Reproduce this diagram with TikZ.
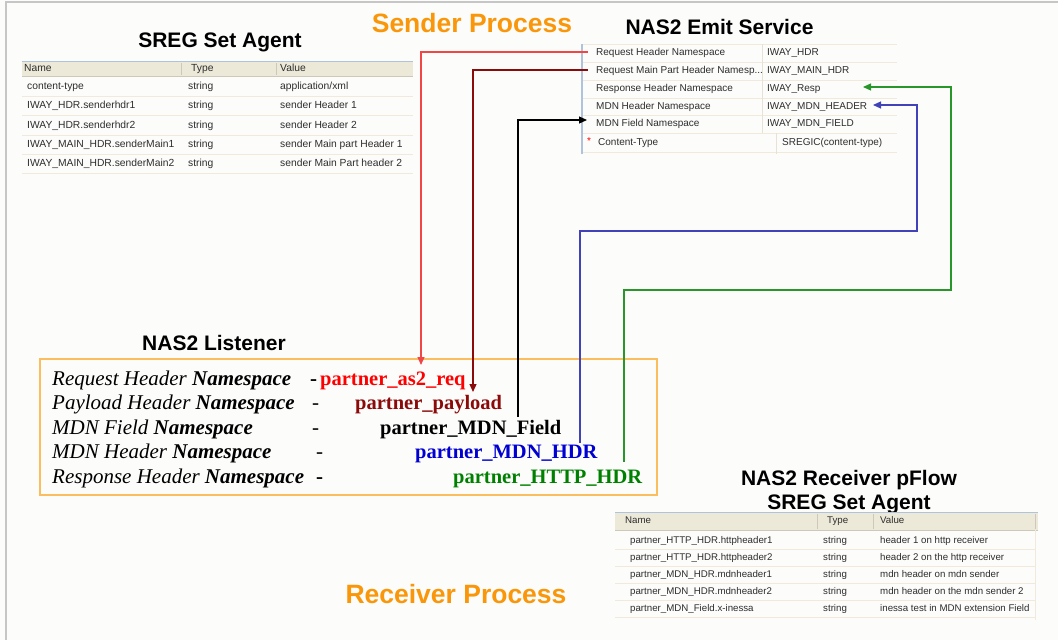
\documentclass[tikz,border=0pt]{standalone}
\usepackage{fontspec}
\setmainfont{Liberation Serif}
\newfontfamily\arialf{Liberation Sans}
\usetikzlibrary{arrows.meta}
\definecolor{bgc}{RGB}{252,253,251}
\definecolor{framec}{RGB}{198,198,198}
\definecolor{orangec}{RGB}{250,150,10}
\definecolor{boxc}{RGB}{250,190,95}
\definecolor{hdrfill}{RGB}{236,233,216}
\definecolor{hdrsep}{RGB}{205,200,185}
\definecolor{rowsep}{RGB}{240,233,220}
\definecolor{colsep}{RGB}{232,226,212}
\definecolor{tabblue}{RGB}{175,195,220}
\definecolor{tabtext}{RGB}{45,45,45}
\definecolor{redl}{RGB}{240,70,70}
\definecolor{redt}{RGB}{255,0,0}
\definecolor{dred}{RGB}{139,10,10}
\definecolor{bluel}{RGB}{65,65,185}
\definecolor{bluet}{RGB}{0,0,210}
\definecolor{greenl}{RGB}{40,150,40}
\definecolor{greent}{RGB}{0,128,0}
\begin{document}
\begin{tikzpicture}[x=1pt,y=-1pt,
  titletxt/.style={font=\arialf\bfseries\fontsize{21pt}{24pt}\selectfont, inner sep=0pt, anchor=base},
  proctxt/.style={font=\arialf\bfseries\fontsize{26.5pt}{30pt}\selectfont, text=orangec, inner sep=0pt, anchor=base},
  tabA/.style={font=\arialf\fontsize{10.3pt}{12pt}\selectfont, text=tabtext, inner sep=0pt, anchor=west, text height=7.5pt, text depth=2.5pt},
  tabB/.style={font=\arialf\fontsize{10pt}{12pt}\selectfont, text=tabtext, inner sep=0pt, anchor=west, text height=7.5pt, text depth=2.5pt},
  tabC/.style={font=\arialf\fontsize{9.7pt}{12pt}\selectfont, text=tabtext, inner sep=0pt, anchor=west, text height=7.5pt, text depth=2.5pt},
  lbl/.style={font=\fontsize{21pt}{24pt}\selectfont\itshape, inner sep=0pt, anchor=base west},
  dashtxt/.style={font=\fontsize{21pt}{24pt}\selectfont, inner sep=0pt, anchor=base west},
  ptxt/.style={font=\fontsize{20.5pt}{24pt}\selectfont\bfseries, inner sep=0pt, anchor=base west},
  conn/.style={line width=1.2pt},
  tip/.style={-{Triangle[length=8pt,width=7pt]}}
]
\fill[bgc] (0,0) rectangle (1058,640);
\useasboundingbox (0,0) rectangle (1058,640);
\draw[framec, line width=1.5pt] (1058,2) -- (6,2) -- (6,640);

% ---------- titles ----------
\node[proctxt] (sendp) at (472,32) {Sender Process};
\node[proctxt] (recvp) at (456,603) {Receiver Process};
\node[titletxt] (t1) at (220,47) {SREG Set Agent};
\node[titletxt] (t2) at (719.5,34.5) {NAS2 Emit Service};
\node[titletxt] (t3) at (214,350) {NAS2 Listener};
\node[titletxt, anchor=center, align=center] (t4) at (849,492) {NAS2 Receiver pFlow\\SREG Set Agent};

% ---------- table 1: SREG Set Agent ----------
\fill[hdrfill] (22,61) rectangle (413,76);
\draw[hdrsep] (22,76) -- (413,76);
\draw[tabblue, line width=1pt] (22,61) -- (413,61);
\draw[hdrsep] (181,63) -- (181,75) (276,63) -- (276,75);
\foreach \yy in {96.6,115.9,135.1,154.4,173.6} \draw[rowsep, line width=1pt] (22,\yy) -- (413,\yy);
\node[tabA] (a-h1) at (24,68.5) {Name};
\node[tabA] (a-h2) at (191,68.5) {Type};
\node[tabA] (a-h3) at (280,68.5) {Value};
\node[tabA] (a-n1) at (27,87) {content-type};
\node[tabA] (a-t1) at (188,87) {string};
\node[tabA] (a-v1) at (280,87) {application/xml};
\node[tabA] (a-n2) at (27,106.25) {IWAY\_HDR.senderhdr1};
\node[tabA] (a-t2) at (188,106.25) {string};
\node[tabA] (a-v2) at (280,106.25) {sender Header 1};
\node[tabA] (a-n3) at (27,125.5) {IWAY\_HDR.senderhdr2};
\node[tabA] (a-t3) at (188,125.5) {string};
\node[tabA] (a-v3) at (280,125.5) {sender Header 2};
\node[tabA] (a-n4) at (27,144.75) {IWAY\_MAIN\_HDR.senderMain1};
\node[tabA] (a-t4) at (188,144.75) {string};
\node[tabA] (a-v4) at (280,144.75) {sender Main part Header 1};
\node[tabA] (a-n5) at (27,164) {IWAY\_MAIN\_HDR.senderMain2};
\node[tabA] (a-t5) at (188,164) {string};
\node[tabA] (a-v5) at (280,164) {sender Main Part header 2};

% ---------- table 2: NAS2 Emit Service ----------
\foreach \yy in {44,62,80,98,115,133,152} \draw[rowsep, line width=1pt] (582,\yy) -- (897,\yy);
\draw[colsep, line width=1pt] (762,44) -- (762,133) (776,133) -- (776,154);
\draw[tabblue, line width=1.5pt] (582,44) -- (582,154);
\node[tabB] (e1) at (596,53) {Request Header Namespace};
\node[tabB] (v1) at (767,53) {IWAY\_HDR};
\node[tabB] (e2) at (596,71) {Request Main Part Header Namesp...};
\node[tabB] (v2) at (767,71) {IWAY\_MAIN\_HDR};
\node[tabB] (e3) at (596,89) {Response Header Namespace};
\node[tabB] (v3) at (767,89) {IWAY\_Resp};
\node[tabB] (e4) at (596,107) {MDN Header Namespace};
\node[tabB] (v4) at (767,107) {IWAY\_MDN\_HEADER};
\node[tabB] (e5) at (596,124) {MDN Field Namespace};
\node[tabB] (v5) at (767,124) {IWAY\_MDN\_FIELD};
\node[font=\arialf\fontsize{10pt}{12pt}\selectfont, text=red, inner sep=0pt] (star) at (589,141.5) {*};
\node[tabB] (e6) at (598,143) {Content-Type};
\node[tabB] (v6) at (782,143) {SREGIC(content-type)};

% ---------- NAS2 Listener box ----------
\draw[boxc, line width=1.3pt] (40,359) rectangle (657,495);
\node[lbl] (l1) at (52,385) {Request Header \textbf{Namespace}};
\node[lbl] (l2) at (52,409.5) {Payload Header \textbf{Namespace}};
\node[lbl] (l3) at (52,434) {MDN Field \textbf{Namespace}};
\node[lbl] (l4) at (52,458.5) {MDN Header \textbf{Namespace}};
\node[lbl] (l5) at (52,483) {Response Header \textbf{Namespace}};
\node[dashtxt] (d1) at (310,385) {\textbf{-}};
\node[dashtxt] (d2) at (312,409.5) {-};
\node[dashtxt] (d3) at (312,434) {-};
\node[dashtxt] (d4) at (316,458.5) {-};
\node[dashtxt] (d5) at (316,483) {\textbf{-}};
\node[ptxt, text=redt] (p1) at (320,385) {partner\_as2\_req};
\node[ptxt, text=dred] (p2) at (355,409.5) {partner\_payload};
\node[ptxt, text=black] (p3) at (380,434) {partner\_MDN\_Field};
\node[ptxt, text=bluet] (p4) at (415,458.5) {partner\_MDN\_HDR};
\node[ptxt, text=greent] (p5) at (453,483) {partner\_HTTP\_HDR};

% ---------- table 3: NAS2 Receiver pFlow SREG Set Agent ----------
\fill[hdrfill] (615,512) rectangle (1038,530);
\draw[hdrsep] (615,530) -- (1038,530);
\draw[tabblue, line width=1pt] (615,512) -- (1038,512);
\draw[hdrsep] (817,514) -- (817,529) (873,514) -- (873,529) (1035,514) -- (1035,529);
\foreach \yy in {549.5,566.5,583,600,617} \draw[rowsep, line width=1pt] (615,\yy) -- (1035,\yy);
\draw[rowsep, line width=1pt] (1035,530) -- (1035,620);
\node[tabC] (c-h1) at (625,521) {Name};
\node[tabC] (c-h2) at (827,521) {Type};
\node[tabC] (c-h3) at (880,521) {Value};
\node[tabC] (c-n1) at (630,541) {partner\_HTTP\_HDR.httpheader1};
\node[tabC] (c-t1) at (823,541) {string};
\node[tabC] (c-v1) at (880,541) {header 1 on http receiver};
\node[tabC] (c-n2) at (630,558) {partner\_HTTP\_HDR.httpheader2};
\node[tabC] (c-t2) at (823,558) {string};
\node[tabC] (c-v2) at (880,558) {header 2 on the http receiver};
\node[tabC] (c-n3) at (630,575) {partner\_MDN\_HDR.mdnheader1};
\node[tabC] (c-t3) at (823,575) {string};
\node[tabC] (c-v3) at (880,575) {mdn header on mdn sender};
\node[tabC] (c-n4) at (630,592) {partner\_MDN\_HDR.mdnheader2};
\node[tabC] (c-t4) at (823,592) {string};
\node[tabC] (c-v4) at (880,592) {mdn header on the mdn sender 2};
\node[tabC] (c-n5) at (630,608.5) {partner\_MDN\_Field.x-inessa};
\node[tabC] (c-t5) at (823,608.5) {string};
\node[tabC] (c-v5) at (880,608.5) {inessa test in MDN extension Field};

% ---------- connectors ----------
\coordinate (bluebend) at (917,231);
\coordinate (greenbend) at (951,290);
\draw[conn, redl, tip] ([xshift=-8pt,yshift=1pt]e1.west) -| ([xshift=101pt,yshift=20pt]p1.base west);
\draw[conn, dred, tip] ([xshift=-8pt,yshift=1pt]e2.west) -| ([xshift=118pt,yshift=17.5pt]p2.base west);
\draw[conn, black, tip] ([xshift=138pt,yshift=17pt]p3.base west) |- ([xshift=-9pt,yshift=4pt]e5.west);
\draw[conn, bluel, tip] ([xshift=165pt,yshift=15.5pt]p4.base west) |- (bluebend) |- ([xshift=106pt,yshift=2pt]v4.west);
\draw[conn, greenl, tip] ([xshift=171pt,yshift=21pt]p5.base west) |- (greenbend) |- ([xshift=96pt,yshift=2pt]v3.west);
\end{tikzpicture}
\end{document}
